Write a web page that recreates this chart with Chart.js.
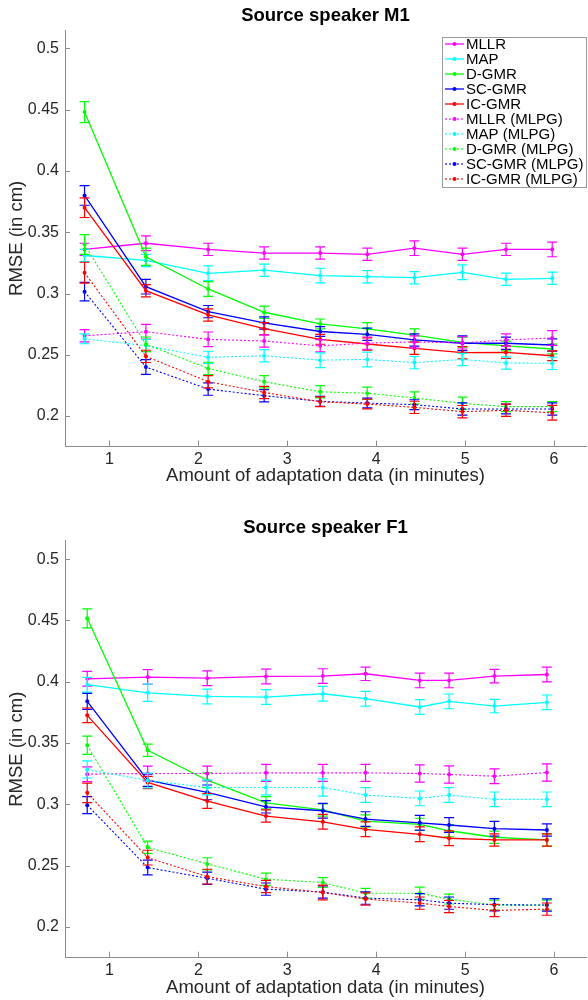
<!DOCTYPE html>
<html>
<head>
<meta charset="utf-8">
<title>RMSE vs amount of adaptation data</title>
<script src="https://cdn.jsdelivr.net/npm/chart.js@4.4.0/dist/chart.umd.min.js"></script>
<style>
  body { margin: 0; background: #fff; }
  canvas { display: block; }
</style>
</head>
<body>
<canvas id="chartM1" width="588" height="500"></canvas>
<canvas id="chartF1" width="588" height="500"></canvas>
<script>
const seriesNames = ["MLLR", "MAP", "D-GMR", "SC-GMR", "IC-GMR",
    "MLLR (MLPG)", "MAP (MLPG)", "D-GMR (MLPG)", "SC-GMR (MLPG)", "IC-GMR (MLPG)"];
const seriesColors = ["#ff00ff", "#00ffff", "#00ff00", "#0000ff", "#ff0000",
    "#ff00ff", "#00ffff", "#00ff00", "#0000ff", "#ff0000"];
const yTicks = [0.2, 0.25, 0.3, 0.35, 0.4, 0.45, 0.5];
const xTicks = [1, 2, 3, 4, 5, 6];

// source speaker M1
const m1Minutes = [0.72, 1.41, 2.11, 2.74, 3.37, 3.90, 4.43, 4.97, 5.46, 5.98];
const m1MLLR = [0.336, 0.341, 0.336, 0.333, 0.333, 0.332, 0.337, 0.332, 0.336, 0.336];
const m1MAP = [0.331, 0.327, 0.3165, 0.319, 0.3146, 0.3137, 0.3129, 0.3173, 0.3116, 0.3124];
const m1DGMR = [0.448, 0.330, 0.3037, 0.2847, 0.2752, 0.2712, 0.2661, 0.2602, 0.2572, 0.2547];
const m1SCGMR = [0.380, 0.3056, 0.2852, 0.276, 0.269, 0.2667, 0.2621, 0.2594, 0.2594, 0.258];
const m1ICGMR = [0.370, 0.3023, 0.2825, 0.2713, 0.2626, 0.2588, 0.2553, 0.2517, 0.252, 0.2492];
const m1MLLRMlpg = [0.2655, 0.2688, 0.2626, 0.2612, 0.2573, 0.2595, 0.2605, 0.2597, 0.2621, 0.2637];
const m1MAPMlpg = [0.263, 0.2575, 0.2479, 0.2492, 0.2456, 0.2462, 0.2436, 0.2462, 0.2433, 0.243];
const m1DGMRMlpg = [0.340, 0.2585, 0.2389, 0.228, 0.2198, 0.2186, 0.2148, 0.2104, 0.2077, 0.2077];
const m1SCGMRMlpg = [0.3015, 0.240, 0.222, 0.2166, 0.212, 0.2106, 0.2093, 0.2058, 0.2058, 0.2058];
const m1ICGMRMlpg = [0.317, 0.2487, 0.228, 0.2193, 0.2117, 0.2098, 0.2071, 0.2036, 0.2047, 0.2027];

const m1MLLRErr = [0.005, 0.006, 0.005, 0.005, 0.005, 0.005, 0.006, 0.005, 0.005, 0.006];
const m1MAPErr = [0.005, 0.005, 0.006, 0.005, 0.006, 0.005, 0.005, 0.006, 0.005, 0.005];
const m1DGMRErr = [0.0085, 0.007, 0.006, 0.005, 0.004, 0.005, 0.005, 0.004, 0.004, 0.004];
const m1SCGMRErr = [0.008, 0.006, 0.005, 0.005, 0.004, 0.005, 0.005, 0.006, 0.005, 0.005];
const m1ICGMRErr = [0.008, 0.005, 0.005, 0.005, 0.004, 0.005, 0.005, 0.005, 0.005, 0.004];
const m1MLLRMlpgErr = [0.005, 0.006, 0.006, 0.005, 0.005, 0.005, 0.005, 0.005, 0.005, 0.006];
const m1MAPMlpgErr = [0.004, 0.005, 0.005, 0.005, 0.006, 0.006, 0.005, 0.005, 0.005, 0.005];
const m1DGMRMlpgErr = [0.008, 0.006, 0.005, 0.005, 0.005, 0.005, 0.005, 0.005, 0.004, 0.004];
const m1SCGMRMlpgErr = [0.0075, 0.006, 0.005, 0.005, 0.004, 0.004, 0.004, 0.005, 0.004, 0.005];
const m1ICGMRMlpgErr = [0.0085, 0.005, 0.005, 0.005, 0.004, 0.004, 0.005, 0.005, 0.005, 0.006];

// source speaker F1
const f1Minutes = [0.75, 1.43, 2.10, 2.76, 3.40, 3.88, 4.49, 4.82, 5.33, 5.92];
const f1MLLR = [0.4024, 0.4038, 0.4029, 0.4043, 0.4046, 0.4065, 0.4011, 0.4011, 0.4046, 0.4059];
const f1MAP = [0.3976, 0.391, 0.388, 0.3875, 0.3902, 0.3862, 0.3794, 0.384, 0.3802, 0.3832];
const f1DGMR = [0.4517, 0.3441, 0.3197, 0.3013, 0.2955, 0.2864, 0.2837, 0.2785, 0.2732, 0.271];
const f1SCGMR = [0.384, 0.3197, 0.3098, 0.298, 0.2948, 0.288, 0.285, 0.2832, 0.2802, 0.2791];
const f1ICGMR = [0.3726, 0.3179, 0.3027, 0.2905, 0.2858, 0.2797, 0.2756, 0.2724, 0.271, 0.271];
const f1MLLRMlpg = [0.3246, 0.3252, 0.3252, 0.3257, 0.3257, 0.3257, 0.3252, 0.3244, 0.323, 0.326];
const f1MAPMlpg = [0.3285, 0.3195, 0.3138, 0.3138, 0.3138, 0.3076, 0.3049, 0.3076, 0.3041, 0.3041];
const f1DGMRMlpg = [0.3482, 0.265, 0.2515, 0.239, 0.2363, 0.2276, 0.2276, 0.2228, 0.2179, 0.2179];
const f1SCGMRMlpg = [0.2994, 0.2485, 0.2398, 0.2309, 0.2285, 0.2236, 0.2222, 0.2195, 0.2182, 0.2179];
const f1ICGMRMlpg = [0.3094, 0.2566, 0.2411, 0.233, 0.2282, 0.2228, 0.2195, 0.2168, 0.2135, 0.2146];

const f1MLLRErr = [0.006, 0.006, 0.006, 0.006, 0.006, 0.0055, 0.006, 0.006, 0.0055, 0.006];
const f1MAPErr = [0.006, 0.007, 0.006, 0.006, 0.006, 0.006, 0.006, 0.006, 0.0055, 0.006];
const f1DGMRErr = [0.0077, 0.005, 0.006, 0.005, 0.005, 0.005, 0.005, 0.005, 0.005, 0.005];
const f1SCGMRErr = [0.0065, 0.005, 0.006, 0.005, 0.006, 0.006, 0.006, 0.006, 0.006, 0.005];
const f1ICGMRErr = [0.006, 0.005, 0.006, 0.005, 0.006, 0.006, 0.006, 0.006, 0.005, 0.005];
const f1MLLRMlpgErr = [0.006, 0.006, 0.006, 0.007, 0.007, 0.007, 0.007, 0.007, 0.006, 0.007];
const f1MAPMlpgErr = [0.007, 0.006, 0.006, 0.006, 0.007, 0.006, 0.006, 0.006, 0.006, 0.006];
const f1DGMRMlpgErr = [0.0075, 0.005, 0.005, 0.005, 0.004, 0.004, 0.005, 0.004, 0.004, 0.004];
const f1SCGMRMlpgErr = [0.007, 0.006, 0.005, 0.005, 0.005, 0.005, 0.005, 0.005, 0.005, 0.005];
const f1ICGMRMlpgErr = [0.008, 0.006, 0.006, 0.005, 0.006, 0.005, 0.005, 0.005, 0.005, 0.005];

const FONT = "'Liberation Sans', Arial, Helvetica, sans-serif";
const AXIS_COLOR = "#8c8c8c";
const TEXT_COLOR = "#262626";
Chart.defaults.font.family = FONT;

// vertical error bars with caps, drawn right after each line
const errorBars = {
    id: "errorBars",
    afterDatasetDraw(chart, args) {
        const ds = chart.data.datasets[args.index];
        if (!ds.errors) return;
        const xs = chart.scales.x, ys = chart.scales.y, ctx = chart.ctx;
        ctx.save();
        ctx.strokeStyle = ds.borderColor;
        ctx.lineWidth = 1.2;
        ctx.setLineDash([]);
        ds.data.forEach((p, i) => {
            const px = xs.getPixelForValue(p.x);
            const top = ys.getPixelForValue(p.y + ds.errors[i]);
            const bot = ys.getPixelForValue(p.y - ds.errors[i]);
            ctx.beginPath();
            ctx.moveTo(px, top); ctx.lineTo(px, bot);
            ctx.moveTo(px - 5, top); ctx.lineTo(px + 5, top);
            ctx.moveTo(px - 5, bot); ctx.lineTo(px + 5, bot);
            ctx.stroke();
        });
        ctx.restore();
    }
};

// matlab style tick marks pointing into the plot
const inwardTicks = {
    id: "inwardTicks",
    afterDraw(chart) {
        const {ctx, chartArea: a} = chart;
        const xs = chart.scales.x, ys = chart.scales.y;
        ctx.save();
        ctx.strokeStyle = AXIS_COLOR;
        ctx.lineWidth = 1;
        ctx.beginPath();
        xTicks.forEach(v => {
            const px = Math.round(xs.getPixelForValue(v)) + 0.5;
            ctx.moveTo(px, a.bottom); ctx.lineTo(px, a.bottom - 6);
        });
        yTicks.forEach(v => {
            const py = Math.round(ys.getPixelForValue(v)) + 0.5;
            ctx.moveTo(a.left, py); ctx.lineTo(a.left + 5, py);
        });
        ctx.stroke();
        ctx.restore();
    }
};

// boxed legend in the upper right corner of the plot
const boxLegend = {
    id: "boxLegend",
    afterDraw(chart) {
        const ctx = chart.ctx;
        const left = 442, top = 37, w = 145, h = 151;
        ctx.save();
        ctx.fillStyle = "#fff";
        ctx.fillRect(left, top, w, h);
        ctx.strokeStyle = "#999";
        ctx.lineWidth = 1;
        ctx.strokeRect(left + 0.5, top + 0.5, w - 1, h - 1);
        ctx.font = "15px " + FONT;
        ctx.textBaseline = "middle";
        chart.data.datasets.forEach((ds, i) => {
            const cy = top + 7 + i * 15;
            ctx.strokeStyle = ds.borderColor;
            ctx.lineWidth = ds.borderWidth;
            ctx.setLineDash(ds.borderDash);
            ctx.beginPath();
            ctx.moveTo(left + 3, cy); ctx.lineTo(left + 22, cy);
            ctx.stroke();
            ctx.setLineDash([]);
            ctx.fillStyle = ds.borderColor;
            ctx.beginPath();
            ctx.arc(left + 12.5, cy, 2, 0, Math.PI * 2);
            ctx.fill();
            ctx.fillStyle = "#000";
            ctx.fillText(ds.label, left + 24, cy + 0.5);
        });
        ctx.restore();
    }
};

function buildChart(id, title, minutes, values, errors, frame, extra) {
    const datasets = values.map((vals, i) => ({
        label: seriesNames[i],
        data: vals.map((v, j) => ({x: minutes[j], y: v})),
        errors: errors[i],
        borderColor: seriesColors[i],
        backgroundColor: seriesColors[i],
        borderWidth: i < 5 ? 1.3 : 1.1,
        borderDash: i < 5 ? [] : [2, 2],
        pointRadius: 2,
        pointBorderWidth: 0,
        pointHoverRadius: 2,
        tension: 0,
        fill: false,
        order: -i
    }));

    return new Chart(document.getElementById(id), {
        type: "line",
        data: {datasets: datasets},
        options: {
            responsive: false,
            animation: false,
            events: [],
            layout: {padding: 0},
            plugins: {
                legend: {display: false},
                tooltip: {enabled: false},
                title: {
                    display: true,
                    text: title,
                    color: "#000",
                    fullSize: false,
                    font: {size: 18.5, weight: "bold"},
                    padding: {top: frame.titleY - 11.1, bottom: frame.top - frame.titleY - 11.1}
                }
            },
            scales: {
                x: {
                    type: "linear",
                    min: 0.5,
                    max: 6.36,
                    afterBuildTicks: s => { s.ticks = xTicks.map(v => ({value: v})); },
                    afterFit: s => { s.height = 500 - frame.bottom; },
                    grid: {display: false, drawTicks: false},
                    border: {display: true, color: AXIS_COLOR, width: 1},
                    ticks: {color: TEXT_COLOR, font: {size: 16}, padding: 3, maxRotation: 0, autoSkip: false},
                    title: {
                        display: true,
                        text: "Amount of adaptation data (in minutes)",
                        color: TEXT_COLOR,
                        font: {size: 18.5},
                        padding: {top: 0, bottom: frame.xLabelPad}
                    }
                },
                y: {
                    type: "linear",
                    min: 0.175,
                    max: 0.515,
                    afterBuildTicks: s => { s.ticks = yTicks.map(v => ({value: v})); },
                    afterFit: s => { s.width = 65; },
                    grid: {display: false, drawTicks: false},
                    border: {display: true, color: AXIS_COLOR, width: 1},
                    ticks: {color: TEXT_COLOR, font: {size: 16}, padding: 6, callback: v => String(v)},
                    title: {
                        display: true,
                        text: "RMSE (in cm)",
                        color: TEXT_COLOR,
                        font: {size: 18.5},
                        padding: {top: 5.5, bottom: 0}
                    }
                }
            }
        },
        plugins: [errorBars, inwardTicks].concat(extra)
    });
}

buildChart("chartM1", "Source speaker M1", m1Minutes,
    [m1MLLR, m1MAP, m1DGMR, m1SCGMR, m1ICGMR, m1MLLRMlpg, m1MAPMlpg, m1DGMRMlpg, m1SCGMRMlpg, m1ICGMRMlpg],
    [m1MLLRErr, m1MAPErr, m1DGMRErr, m1SCGMRErr, m1ICGMRErr, m1MLLRMlpgErr, m1MAPMlpgErr, m1DGMRMlpgErr, m1SCGMRMlpgErr, m1ICGMRMlpgErr],
    {titleY: 16, top: 30, bottom: 446.7, xLabelPad: 12.9}, [boxLegend]);

buildChart("chartF1", "Source speaker F1", f1Minutes,
    [f1MLLR, f1MAP, f1DGMR, f1SCGMR, f1ICGMR, f1MLLRMlpg, f1MAPMlpg, f1DGMRMlpg, f1SCGMRMlpg, f1ICGMRMlpg],
    [f1MLLRErr, f1MAPErr, f1DGMRErr, f1SCGMRErr, f1ICGMRErr, f1MLLRMlpgErr, f1MAPMlpgErr, f1DGMRMlpgErr, f1SCGMRMlpgErr, f1ICGMRMlpgErr],
    {titleY: 27.5, top: 40.7, bottom: 457.7, xLabelPad: 0.9}, []);
</script>
</body>
</html>
